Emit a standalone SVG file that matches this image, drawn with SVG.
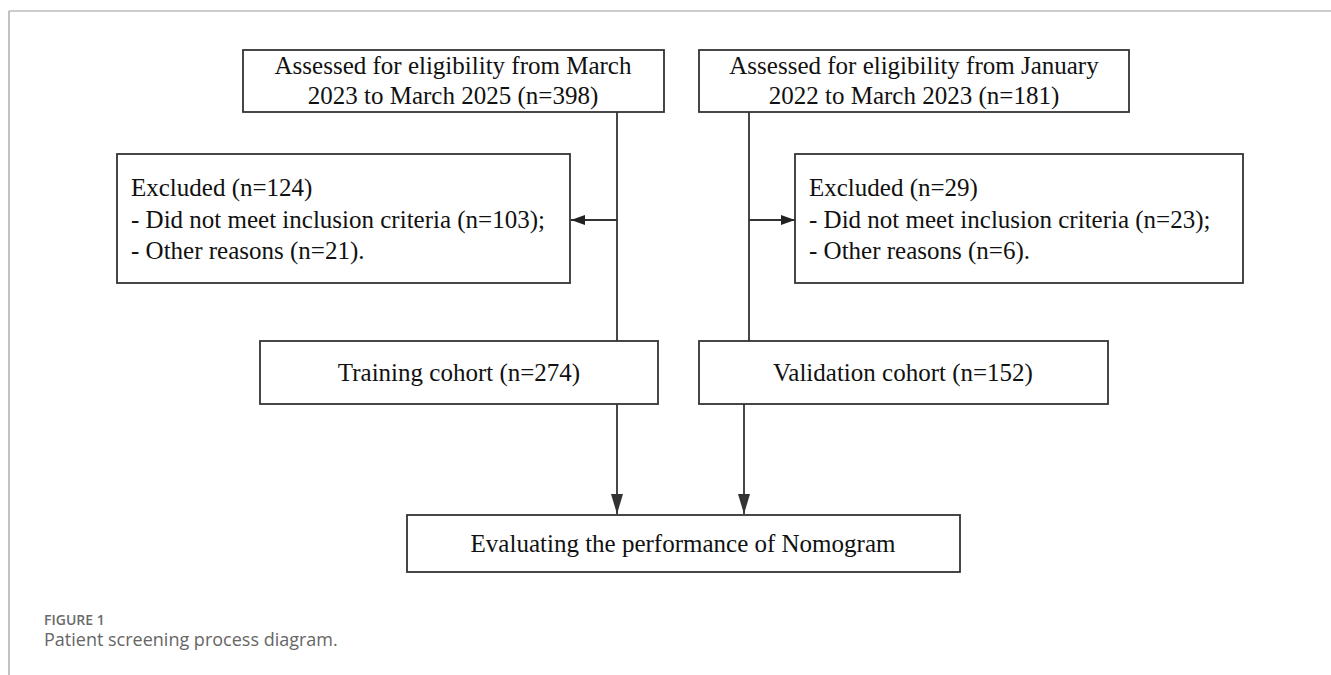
<svg xmlns="http://www.w3.org/2000/svg" width="1331" height="675" viewBox="0 0 1331 675">
<style>
.box{fill:#fff;stroke:#333;stroke-width:1.8}
.t{font-family:"Liberation Serif","Times New Roman",serif;font-size:25px;fill:#111}
.c{text-anchor:middle}
.line{stroke:#333;stroke-width:1.8;fill:none}
.cap1{font-family:"Open Sans","Noto Sans",sans-serif;font-size:14px;font-weight:600;fill:#6a6a6a}
.cap2{font-family:"Open Sans","Noto Sans",sans-serif;font-size:18px;fill:#666}
</style>
<defs>
<marker id="ah" viewBox="0 0 10 10" refX="10" refY="5" markerWidth="14" markerHeight="10" markerUnits="userSpaceOnUse" orient="auto" preserveAspectRatio="none">
<path d="M0,0 L10,5 L0,10 z" fill="#222"/>
</marker>
<marker id="av" viewBox="0 0 10 10" refX="10" refY="5" markerWidth="20" markerHeight="12" markerUnits="userSpaceOnUse" orient="auto" preserveAspectRatio="none">
<path d="M0,0 L10,5 L0,10 z" fill="#333"/>
</marker>
</defs>
<rect width="1331" height="675" fill="#fff"/>
<g id="frame">
<line x1="9" y1="11" x2="1331" y2="11" stroke="#999" stroke-width="1.2"/>
<line x1="9" y1="11" x2="9" y2="675" stroke="#999" stroke-width="1.2"/>
</g>
<g id="connectors">
<line class="line" x1="617" y1="112" x2="617" y2="341"/>
<line class="line" x1="617" y1="220" x2="571" y2="220" marker-end="url(#ah)" style="stroke-width:2.2"/>
<line class="line" x1="749" y1="112" x2="749" y2="341"/>
<line class="line" x1="749" y1="220" x2="795" y2="220" marker-end="url(#ah)" style="stroke-width:2.2"/>
<line class="line" x1="617" y1="404" x2="617" y2="514" marker-end="url(#av)"/>
<line class="line" x1="744" y1="404" x2="744" y2="514" marker-end="url(#av)"/>
</g>
<g id="node-march">
<rect class="box" x="243" y="50" width="421" height="62"/>
<text class="t c" x="453" y="74">Assessed for eligibility from March</text>
<text class="t c" x="453" y="104">2023 to March 2025 (n=398)</text>
</g>
<g id="node-january">
<rect class="box" x="699" y="50" width="430" height="62"/>
<text class="t c" x="914" y="74">Assessed for eligibility from January</text>
<text class="t c" x="914" y="104">2022 to March 2023 (n=181)</text>
</g>
<g id="node-excluded-left">
<rect class="box" x="117" y="154" width="453" height="129"/>
<text class="t" x="131" y="196">Excluded (n=124)</text>
<text class="t" x="131" y="228">- Did not meet inclusion criteria (n=103);</text>
<text class="t" x="131" y="259">- Other reasons (n=21).</text>
</g>
<g id="node-excluded-right">
<rect class="box" x="795" y="154" width="448" height="129"/>
<text class="t" x="809" y="196">Excluded (n=29)</text>
<text class="t" x="809" y="228">- Did not meet inclusion criteria (n=23);</text>
<text class="t" x="809" y="259">- Other reasons (n=6).</text>
</g>
<g id="node-training">
<rect class="box" x="260" y="341" width="398" height="63"/>
<text class="t c" x="459" y="381">Training cohort (n=274)</text>
</g>
<g id="node-validation">
<rect class="box" x="699" y="341" width="409" height="63"/>
<text class="t c" x="903" y="381">Validation cohort (n=152)</text>
</g>
<g id="node-evaluating">
<rect class="box" x="407" y="515" width="553" height="57"/>
<text class="t c" x="683" y="552">Evaluating the performance of Nomogram</text>
</g>
<g id="caption">
<text class="cap1" x="44" y="625">FIGURE 1</text>
<text class="cap2" x="44" y="646">Patient screening process diagram.</text>
</g>
</svg>
